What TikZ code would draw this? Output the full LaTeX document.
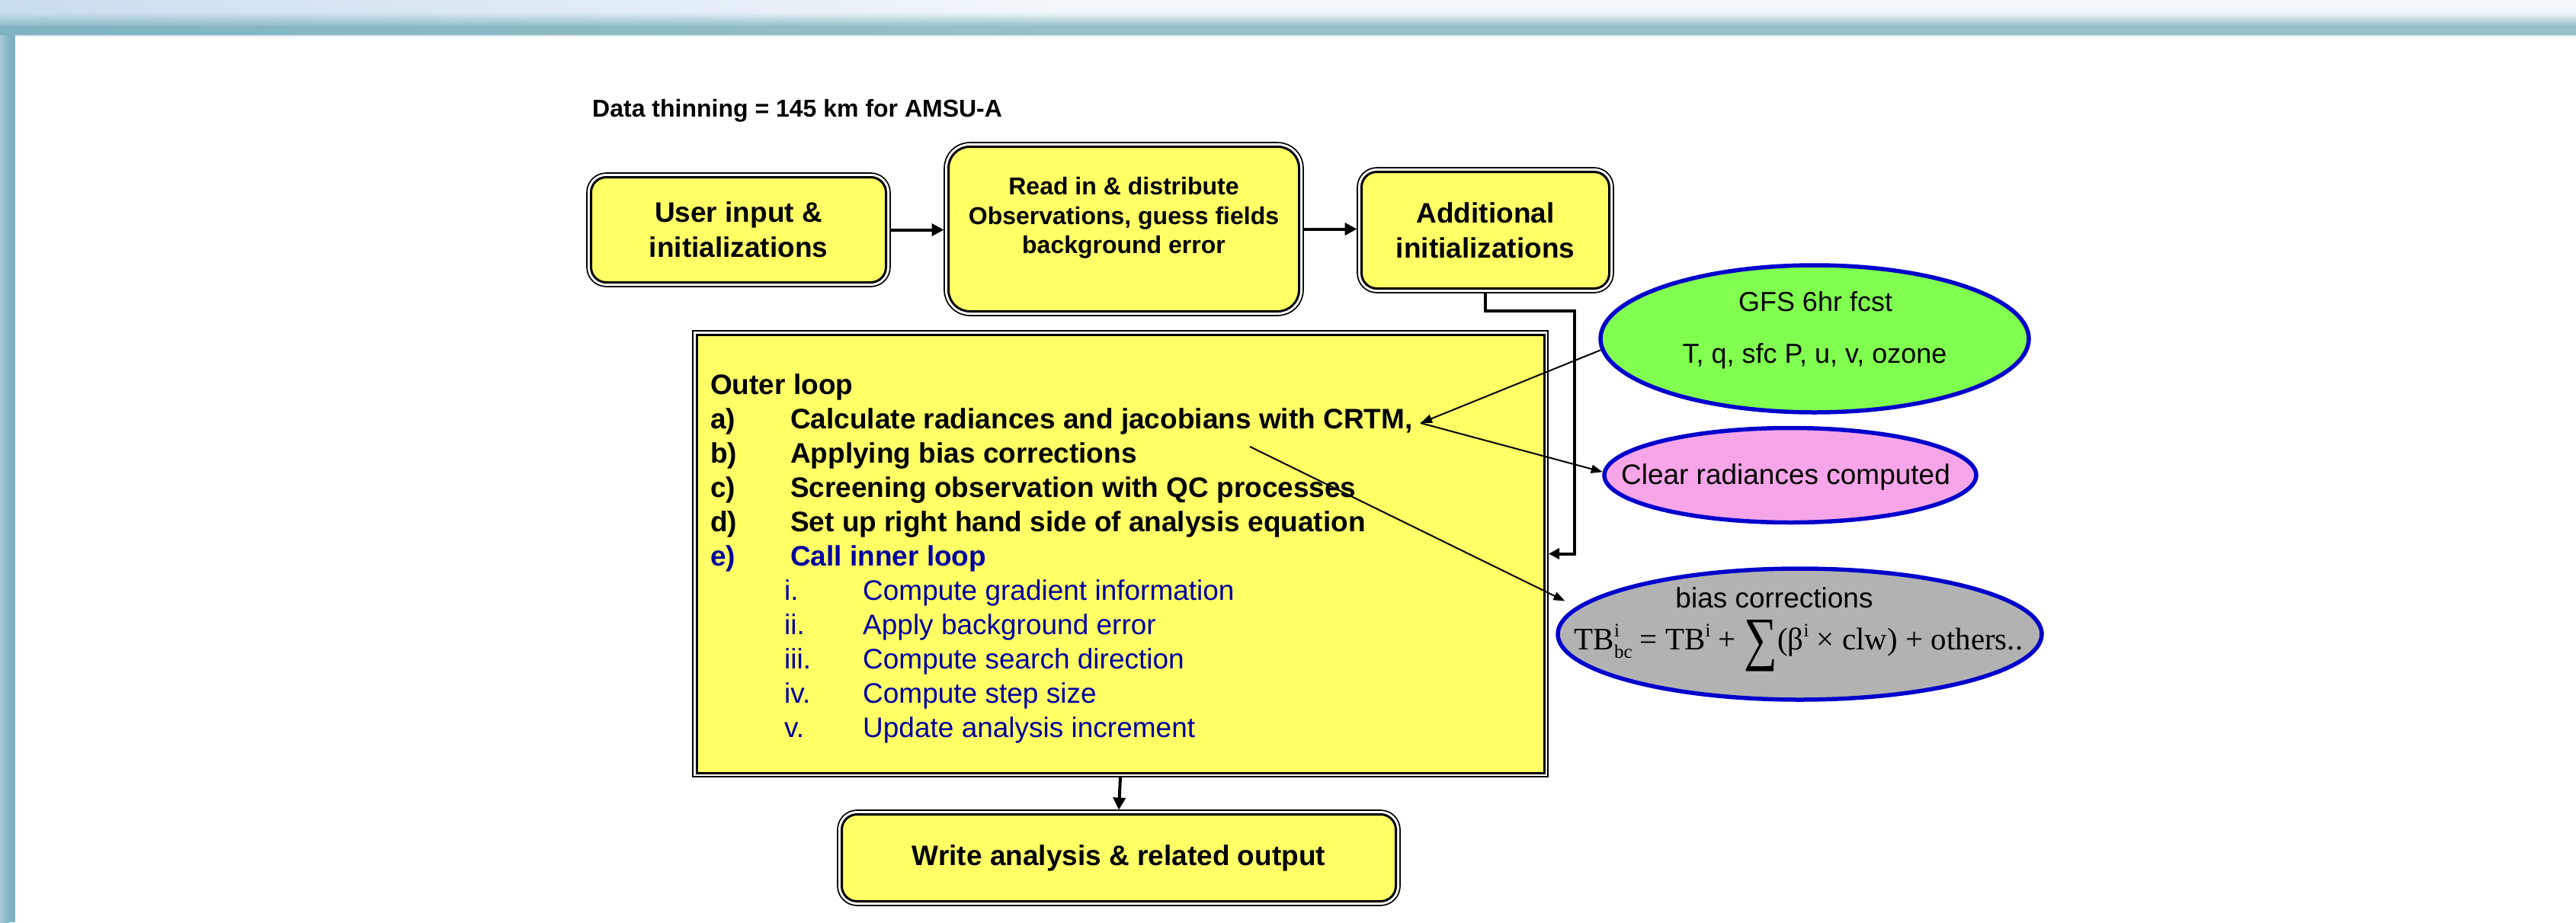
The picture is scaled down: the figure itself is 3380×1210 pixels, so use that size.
\documentclass[tikz,border=0pt]{standalone}
\usepackage{fontspec}
\setmainfont{Liberation Sans}
\newfontfamily\timesf{Liberation Serif}
\usetikzlibrary{shapes.geometric,arrows.meta,shadings}
\definecolor{boxyellow}{RGB}{255,255,102}
\definecolor{ellblue}{RGB}{0,0,204}
\definecolor{gfsgreen}{RGB}{128,255,80}
\definecolor{pinkfill}{RGB}{245,165,232}
\definecolor{grayfill}{RGB}{178,178,178}
\definecolor{listblue}{RGB}{0,0,160}
\definecolor{bnA}{RGB}{202,221,237}
\definecolor{bnB}{RGB}{242,247,251}
\definecolor{bnC}{RGB}{127,179,193}
\definecolor{bnD}{RGB}{151,193,201}
\definecolor{bnE}{RGB}{168,202,218}
\begin{document}
\begin{tikzpicture}[x=1pt,y=-1pt,
  dblbox/.style={fill=boxyellow, draw=black, line width=3pt, inner sep=0pt, outer sep=6pt,
    preaction={draw=black, line width=12.6pt}, preaction={draw=white, line width=9pt}},
  sqbox/.style={fill=boxyellow, draw=black, line width=3pt, inner sep=0pt, outer sep=6pt,
    preaction={draw=black, line width=11.5pt}, preaction={draw=white, line width=8.5pt}},
  oval/.style={ellipse, draw=ellblue, line width=5.5pt, inner sep=0pt},
  bt/.style={font=\bfseries\fontsize{37}{46}\selectfont, align=center},
  bt32/.style={font=\bfseries\fontsize{32}{38.5}\selectfont, align=center},
  rt/.style={font=\fontsize{37}{45}\selectfont},
  itemb/.style={anchor=base west, inner sep=0pt, font=\bfseries\fontsize{37}{45}\selectfont},
  itemr/.style={anchor=base west, inner sep=0pt, text=listblue, font=\fontsize{37}{45}\selectfont},
  thickarrow/.style={line width=4pt, -{Triangle[length=16pt,width=16pt]}},
  thinarrow/.style={line width=2pt, -{Triangle[length=15pt,width=11pt]}}
]
\useasboundingbox (0,0) rectangle (3380,1210);
\fill[white] (0,0) rectangle (3380,1210);
% banner
\shade[upper left=bnA, upper right=bnB, lower left=bnA, lower right=bnB] (0,0) rectangle (1400,16);
\fill[bnB] (1400,0) rectangle (3380,16);
\shade[upper left=bnA, upper right=bnB, lower left=bnC!90!white, lower right=bnD] (0,16) rectangle (1400,34);
\shade[upper left=bnB, upper right=bnB, lower left=bnD, lower right=bnD] (1400,16) rectangle (3380,34);
\shade[left color=bnC, right color=bnD] (0,34) rectangle (1400,46);
\fill[bnD] (1400,34) rectangle (3380,46);
\fill[bnC!30!white] (20,46) rectangle (3380,47.5);
% left strip
\shade[left color=bnE, right color=bnC] (0,46) rectangle (12,1210);
\fill[bnC] (12,46) rectangle (20,1210);

% title
\node[anchor=base west, inner sep=0pt, font=\bfseries\fontsize{32}{38}\selectfont] (title) at (777,153) {Data thinning = 145 km for AMSU-A};

% top boxes
\node[dblbox, rounded corners=20pt, minimum width=387pt, minimum height=138pt, bt] (b1) at (969,301.5) {User input \&\\initializations};
\node[dblbox, rounded corners=28pt, minimum width=460pt, minimum height=216pt] (b2) at (1474.5,300.5) {};
\node[bt32, inner sep=0pt] (b2t) at (1474.5,286) {Read in \& distribute\\Observations, guess fields\\background error};
\node[dblbox, rounded corners=20pt, minimum width=325pt, minimum height=153pt, bt] (b3) at (1949,302) {Additional\\initializations};

% outer loop box
\node[sqbox, minimum width=1112pt, minimum height=575pt] (outer) at (1470,726.5) {};
\node[itemb] (l0) at (932,517) {Outer loop};
\node[itemb] (la) at (932,562) {\makebox[105pt][l]{a)}Calculate radiances and jacobians with CRTM,};
\node[itemb] (lb) at (932,607) {\makebox[105pt][l]{b)}Applying bias corrections};
\node[itemb] (lc) at (932,652) {\makebox[105pt][l]{c)}Screening observation with QC processes};
\node[itemb] (ld) at (932,697) {\makebox[105pt][l]{d)}Set up right hand side of analysis equation};
\node[itemb, text=listblue] (le) at (932,742) {\makebox[105pt][l]{e)}Call inner loop};
\node[itemr] (li) at (1029,787) {\makebox[103pt][l]{i.}Compute gradient information};
\node[itemr] (lii) at (1029,832) {\makebox[103pt][l]{ii.}Apply background error};
\node[itemr] (liii) at (1029,877) {\makebox[103pt][l]{iii.}Compute search direction};
\node[itemr] (liv) at (1029,922) {\makebox[103pt][l]{iv.}Compute step size};
\node[itemr] (lv) at (1029,967) {\makebox[103pt][l]{v.}Update analysis increment};

% write box
\node[dblbox, rounded corners=20pt, minimum width=727pt, minimum height=114pt, bt] (wr) at (1468,1125.5) {Write analysis \& related output};

% ellipses
\node[oval, fill=gfsgreen, minimum width=562pt, minimum height=193pt] (gfs) at (2381,444.5) {};
\node[anchor=base, inner sep=0pt, font=\fontsize{36}{40}\selectfont] (gfs1) at (2382,408) {GFS 6hr fcst};
\node[anchor=base, inner sep=0pt, font=\fontsize{36}{40}\selectfont] (gfs2) at (2381,476) {T, q, sfc P, u, v, ozone};

\node[oval, fill=pinkfill, minimum width=488pt, minimum height=124pt] (pink) at (2349,623.5) {};
\node[anchor=base, inner sep=0pt, rt] (pinkt) at (2343,635) {Clear radiances computed};

\node[oval, fill=grayfill, minimum width=635pt, minimum height=172pt] (gray) at (2361.5,832) {};
\node[anchor=base, inner sep=0pt, rt] (grayt) at (2328,797) {bias corrections};
\node[anchor=base, inner sep=0pt, font=\timesf\fontsize{41}{41}\selectfont] (formula) at (2360,852)
  {TB\rlap{\raisebox{17pt}{\fontsize{25}{25}\selectfont i}}\raisebox{-11pt}{\fontsize{25}{25}\selectfont bc} = TB\raisebox{17pt}{\fontsize{25}{25}\selectfont i} + \raisebox{-12pt}{\scalebox{1.5}[1.9]{∑}}(β\raisebox{17pt}{\fontsize{25}{25}\selectfont i} × clw) + others..};

% connectors
\draw[thickarrow] (b1.east) -- (b1.east -| b2.west);
\draw[thickarrow] (b2.east) -- (b2.east -| b3.west);
\coordinate (k1) at (2066,408);
\coordinate (k2) at (2066,726.5);
\draw[line width=4pt, -{Triangle[length=14pt,width=14pt]}] (b3.south) |- (k1) -- (k2) -- (outer.east);
\draw[thickarrow] (outer.south) -- (wr.north);

\coordinate (crtm) at (1864,555);
\coordinate (bstart) at (1640,586);
\draw[thinarrow] (gfs.183) -- (crtm);
\draw[thinarrow] (crtm) -- (pink.179);
\draw[thinarrow, shorten >=17pt] (bstart) -- (gray.173);
\end{tikzpicture}
\end{document}
